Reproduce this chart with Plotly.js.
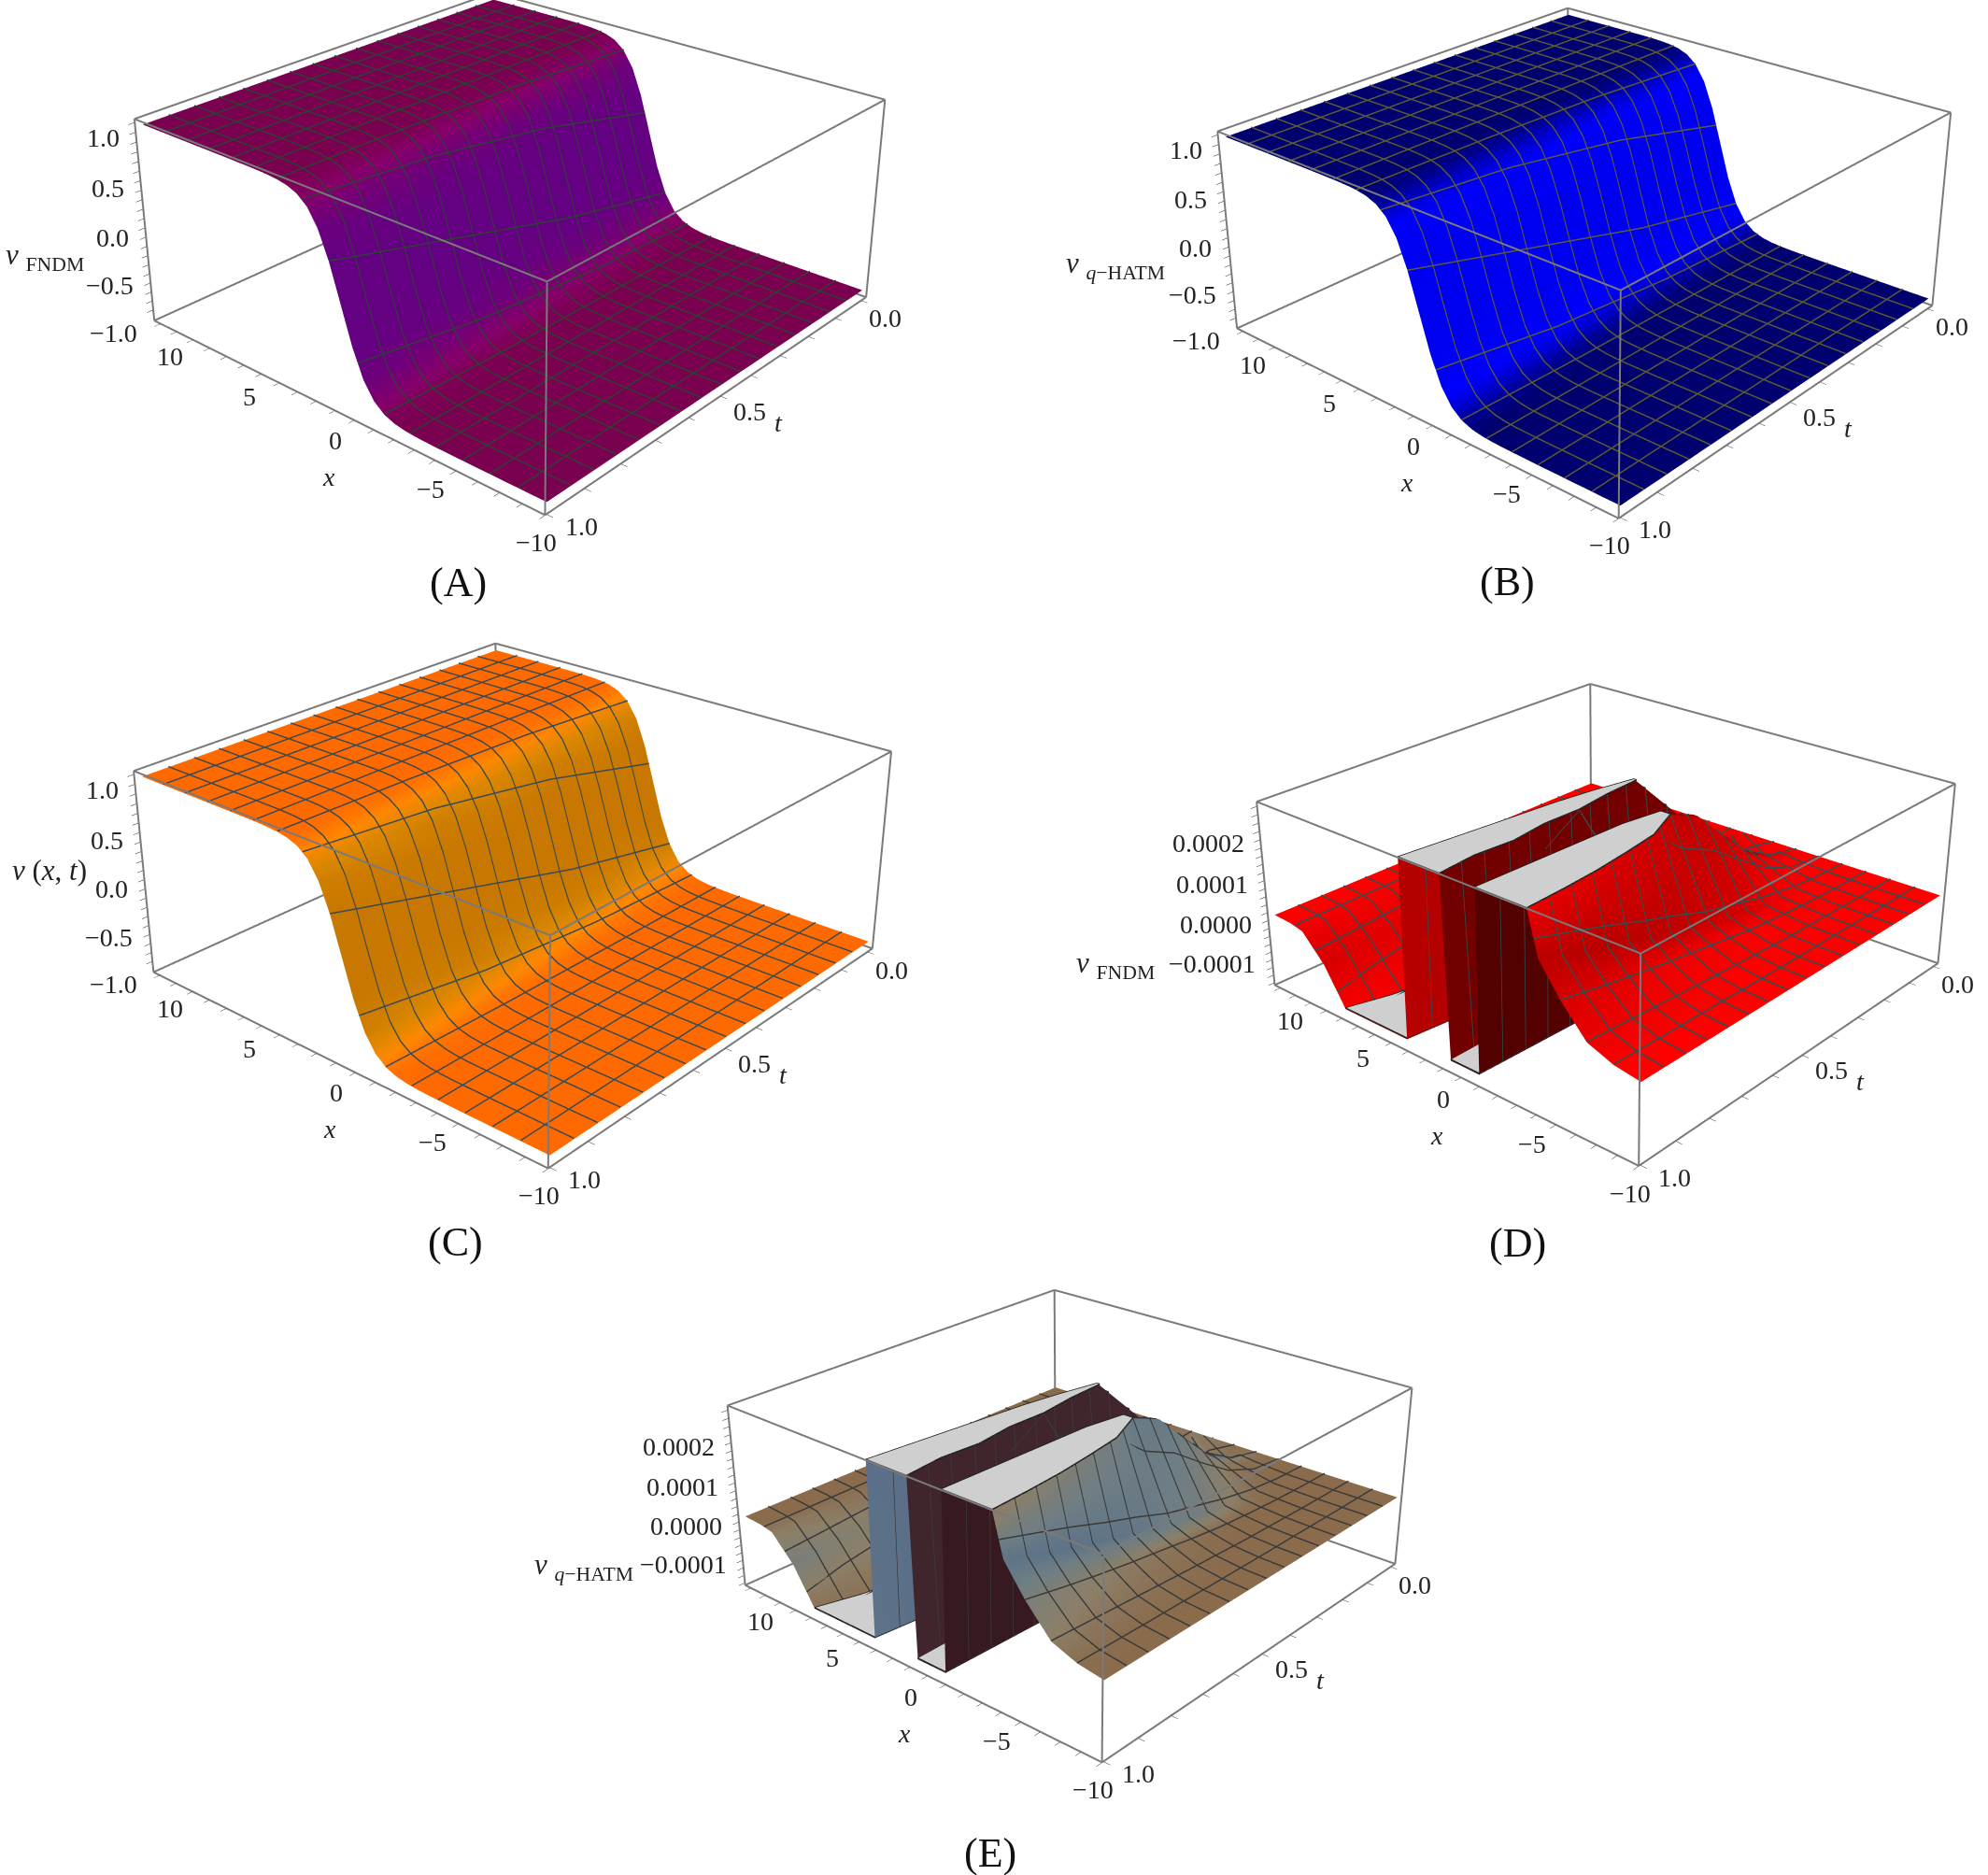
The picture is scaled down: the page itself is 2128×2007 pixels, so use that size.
<!DOCTYPE html>
<html><head><meta charset="utf-8">
<script src="https://cdn.plot.ly/plotly-3.0.1.min.js"></script>
<style>html,body{margin:0;padding:0;width:2128px;height:2007px;overflow:hidden;background:#fff}
.p{position:absolute}</style></head>
<body>
<script>
/* ---------- data ---------- */
const xSmooth=[-10,-9.5,-9,-8.5,-8,-7.5,-7,-6.5,-6,-5.5,-5,-4.5,-4,-3.5,-3,-2.5,-2,-1.5,-1,-0.5,0,0.5,1,1.5,2,2.5,3,3.5,4,4.5,5,5.5,6,6.5,7,7.5,8,8.5,9,9.5,10];
const tSmooth=[0,0.333,0.667,1];
const vRowT0=[-1,-1,-1,-1,-1,-1,-1,-1,-1,-1,-1,-1,-0.999,-0.999,-0.997,-0.993,-0.984,-0.964,-0.922,-0.834,-0.664,-0.38,0,0.38,0.664,0.834,0.922,0.964,0.984,0.993,0.997,0.999,0.999,1,1,1,1,1,1,1,1];
const vRowT1=[-1,-1,-1,-1,-1,-1,-1,-1,-1,-1,-1,-0.999,-0.999,-0.997,-0.993,-0.984,-0.964,-0.922,-0.834,-0.664,-0.38,0,0.38,0.664,0.834,0.922,0.964,0.984,0.993,0.997,0.999,0.999,1,1,1,1,1,1,1,1,1];
const vRowT2=[-1,-1,-1,-1,-1,-1,-1,-1,-1,-1,-0.999,-0.999,-0.997,-0.993,-0.984,-0.964,-0.922,-0.834,-0.664,-0.38,0,0.38,0.664,0.834,0.922,0.964,0.984,0.993,0.997,0.999,0.999,1,1,1,1,1,1,1,1,1,1];
const vRowT3=[-1,-1,-1,-1,-1,-1,-1,-1,-1,-0.999,-0.999,-0.997,-0.993,-0.984,-0.964,-0.922,-0.834,-0.664,-0.38,0,0.38,0.664,0.834,0.922,0.964,0.984,0.993,0.997,0.999,0.999,1,1,1,1,1,1,1,1,1,1,1];
const vSmooth=[vRowT0,vRowT1,vRowT2,vRowT3];

/* error surfaces: each row is one t, columns follow the cliffs (z in units of 1e-4) */
const tErr=[0,0.1,0.2,0.3,0.4,0.5,0.6,0.7,0.8,0.9,1];
const xErr=[
[-10,-8.75,-7.5,-6.25,-5,-3.75,-2.5,-1.25,0,1.25,2.5,3.75,5,6.25,7.5,8.75,10],
[-10,-8.75,-7.5,-6.25,-5.2,-3,-2.4,-2,-0.6,-0.1,0.5,1.2,2.4,7,8.25,9,10],
[-10,-8.75,-7.5,-6.25,-5.2,-3,-2.4,-2,-0.6,-0.1,0.5,1.2,2.4,7,8.25,9,10],
[-10,-8.75,-7.5,-6.25,-5.2,-3,-2.6,-2.2,-0.4,0.1,0.5,1,2.4,7,8.25,9,10],
[-10,-8.75,-7.5,-6.25,-5.2,-2.95,-2.7,-2.3,-0.3,0.35,0.5,0.9,2.8,7,8.25,9,10],
[-10,-8.75,-7.5,-6.25,-5.2,-3.1,-2.6,-2.35,-0.3,0.25,0.9,1.1,3.3,7,8.25,9,10],
[-10,-8.75,-7.5,-6.25,-5.2,-3.9,-2.3,-2.15,-0.32,0,1.2,1.3,3.8,7,8.25,9,10],
[-10,-8.75,-7.5,-6.25,-5.2,-4.2,-2.25,-2.1,-0.34,0.05,1.4,1.5,4.3,7,8.25,9,10],
[-10,-8.75,-7.5,-6.25,-5.2,-4.45,-2.2,-2.05,-0.36,-0.2,1.6,1.7,4.8,7,8.25,9,10],
[-10,-8.75,-7.5,-6.25,-5.2,-4.6,-2.15,-2,-0.38,-0.05,1.8,1.9,5.2,7,8.25,9,10],
[-10,-8.75,-7.5,-6.25,-5.2,-4.7,-2.1,-1.95,-0.4,-0.25,2,2.1,5.8,7,8.25,9,10]];
const zErr=[
[0,0,0,0,0,0,0,0,0,0,0,0,0,0,0,0,0],
[0,0,0,0.01,0.02,0.12,0.2,-0.15,0.5,-0.4,0.15,-0.08,-0.05,-0.01,0,0,0],
[0,0,0.01,0.04,0.07,0.6,0.7,-0.5,0.6,0.75,0.75,-0.3,-0.2,-0.03,0,0,0],
[0,0.01,0.03,0.09,0.16,1.4,1.5,-0.3,-0.28,1.7,1.7,-0.75,-0.5,-0.07,-0.01,0,0],
[0,0.01,0.05,0.16,0.3,2.3,2.3,-0.55,-0.5,2.67,2.67,-1.2,-0.9,-0.13,-0.02,0,0],
[0,0.02,0.09,0.27,0.47,2.67,2.67,-0.9,-0.8,2.67,2.67,-1.6,-1.4,-0.2,-0.03,-0.01,0],
[0,0.03,0.13,0.4,0.68,2.67,2.67,-1.3,-1.1,2.67,2.67,-1.6,-1.6,-0.28,-0.04,-0.01,0],
[0,0.05,0.18,0.52,0.9,2.67,2.67,-1.6,-1.6,2.67,2.67,-1.6,-1.6,-0.38,-0.05,-0.02,0],
[0,0.06,0.23,0.66,1.15,2.67,2.67,-1.6,-1.6,2.67,2.67,-1.6,-1.6,-0.48,-0.07,-0.02,0],
[0,0.08,0.28,0.82,1.4,2.67,2.67,-1.6,-1.6,2.67,2.67,-1.6,-1.6,-0.6,-0.08,-0.03,0],
[0,0.1,0.33,1,1.7,2.67,2.67,-1.6,-1.6,2.67,2.67,-1.6,-1.6,-0.7,-0.1,-0.03,0]];
const errUnit=1e-4, errTop=2.67, errFloor=-1.6;
const errTone=[.5,.5,.5,.5,.5,.5,1,1,.85,.85,.5,.5,.5,.5,.5,.5,.5];

const xTicks=[-10,-9,-8,-7,-6,-5,-4,-3,-2,-1,0,1,2,3,4,5,6,7,8,9,10];
const xLabels=['−10','','','','','−5','','','','','0','','','','','5','','','','','10'];
const tTicks=[0,0.1,0.2,0.3,0.4,0.5,0.6,0.7,0.8,0.9,1];
const tLabels=['0.0','','','','','0.5','','','','','1.0'];
const vTicks=[-1,-0.9,-0.8,-0.7,-0.6,-0.5,-0.4,-0.3,-0.2,-0.1,0,0.1,0.2,0.3,0.4,0.5,0.6,0.7,0.8,0.9,1];
const vLabels=['−1.0','','','','','−0.5','','','','','0.0','','','','','0.5','','','','','1.0'];
const eTicks=[-1.8,-1.6,-1.4,-1.2,-1,-0.8,-0.6,-0.4,-0.2,0,0.2,0.4,0.6,0.8,1,1.2,1.4,1.6,1.8,2,2.2,2.4,2.6];
const eLabels=['','','','','−0.0001','','','','','0.0000','','','','','0.0001','','','','','0.0002','','',''];

const panels=[
 {id:'(A)',kind:'v',cx:551,cy:226,s:1.005,az:.425,capx:490,capy:623,title:'<i>v</i> <sub>FNDM</sub>',tz:0,tsx:-108,tsy:-42,mesh:'#2f3f35',
  scale:[[0,'#7a0050'],[.35,'#86006a'],[1,'#640082']]},
 {id:'(B)',kind:'v',cx:1701,cy:238,s:.982,az:.425,capx:1613,capy:623,title:'<i>v</i> <sub><i>q</i>−HATM</sub>',tz:0,tsx:-121,tsy:-40,mesh:'#5a5a36',
  scale:[[0,'#00006e'],[.4,'#0000c8'],[.7,'#0000ff'],[1,'#0000f0']]},
 {id:'(C)',kind:'v',cx:554,cy:924,s:1.015,az:.42,capx:487,capy:1330,title:'<i>v</i> (<i>x</i>, <i>t</i>)',tz:0,tsx:-102,tsy:-1,mesh:'#3c4a50',
  scale:[[0,'#ff6a00'],[.35,'#ff8800'],[.7,'#d98600'],[1,'#c87800']]},
 {id:'(D)',kind:'e',cx:1724,cy:948,s:.936,az:.415,capx:1624,capy:1330,title:'<i>v</i> <sub>FNDM</sub>',tz:-1e-4,tsx:-168,tsy:-15,mesh:'#2f4f50',
  scale:[[0,'#ff0000'],[.5,'#b40000'],[.75,'#8a0000'],[1,'#520000']]},
 {id:'(E)',kind:'e',cx:1150,cy:1592,s:.917,az:.415,capx:1060,capy:1983,title:'<i>v</i> <sub><i>q</i>−HATM</sub>',tz:-1e-4,tsx:-171,tsy:-16,mesh:'#3a3a3a',
  scale:[[0,'#8a6b4c'],[.15,'#8c7f68'],[.35,'#6e7e85'],[.5,'#5a7088'],[.7,'#4a3038'],[1,'#361a20']]}
];

/* ---------- figure ---------- */
const BASE=1547, HALFW=600;
const eye={x:-2.01,y:2.31,z:1.43};
const xRange=[-10.02,10.4], tRange=[-0.02,1.005];
const FONT='Liberation Serif, serif', TS=28, TICK=28;
const LIT={ambient:1,diffuse:0,specular:0,roughness:1,fresnel:0};
const capPairs=[[5,6,errTop],[9,10,errTop],[7,8,errFloor],[11,12,errFloor]];

function shade(xs,ts,zs,zr,tone,az){
 const sx=1/(xRange[1]-xRange[0]),sy=1/(tRange[1]-tRange[0]),sz=az/(zr[1]-zr[0]);
 const X=r=>Array.isArray(xs[0])?xs[r]:xs;
 return zs.map((row,i)=>row.map((z,j)=>{
  const j0=Math.max(j-1,0),j1=Math.min(j+1,row.length-1),i0=Math.max(i-1,0),i1=Math.min(i+1,zs.length-1);
  const a=(row[j1]-row[j0])*sz/(Math.max(X(i)[j1]-X(i)[j0],1e-3)*sx);
  const b=(zs[i1][j]-zs[i0][j])*sz/((ts[i1]-ts[i0])*sy);
  const st=1-1/Math.sqrt(1+a*a+b*b);
  return Math.min(1,st/.6)*(tone?tone[j]:1);
 }));
}
function boxLines(zr){
 const X=[],Y=[],Z=[];
 const inset=r=>{const e=(r[1]-r[0])*.001;return [r[0]+e,r[1]-e]};
 const xr=inset(xRange),yr=inset(tRange),zz=inset(zr);
 const add=(a,b,c,d,e,f)=>{X.push(a,d,null);Y.push(b,e,null);Z.push(c,f,null)};
 for(const y of yr)for(const z of zz)add(xr[0],y,z,xr[1],y,z);
 for(const x of xr)for(const z of zz)add(x,yr[0],z,x,yr[1],z);
 for(const x of xr)for(const y of yr)add(x,y,zz[0],x,y,zz[1]);
 return {x:X,y:Y,z:Z};
}
/* the 15×15 mesh */
function meshLines(xs,ts,zs,lift){
 const X=Array.isArray(xs[0])?xs:ts.map(()=>xs);
 const out={x:[],y:[],z:[]};
 for(let k=1;k<16;k++){
  const lvl=-10+k*1.25;
  ts.forEach((t,i)=>{
   const r=X[i];let j=0;while(j<r.length-2&&r[j+1]<lvl)j++;
   const f=(lvl-r[j])/(r[j+1]-r[j]);
   out.x.push(lvl);out.y.push(t);out.z.push(zs[i][j]+(zs[i][j+1]-zs[i][j])*f+lift);
  });
  out.x.push(null);out.y.push(null);out.z.push(null);
 }
 for(let k=1;k<16;k++){
  const t=k/16;let i=0;while(i<ts.length-2&&ts[i+1]<t)i++;
  const f=(t-ts[i])/(ts[i+1]-ts[i]);
  X[i].forEach((x0,j)=>{
   out.x.push(x0+(X[i+1][j]-x0)*f);out.y.push(t);out.z.push(zs[i][j]+(zs[i+1][j]-zs[i][j])*f+lift);
  });
  out.x.push(null);out.y.push(null);out.z.push(null);
 }
 return out;
}
function drawPanel(p){
 const h=BASE*p.s, w=2*HALFW;
 const div=document.createElement('div');div.className='p';
 div.style.left=(p.cx-HALFW)+'px';div.style.top=(p.cy-h/2)+'px';div.style.width=w+'px';div.style.height=h+'px';
 document.body.appendChild(div);
 const isV=p.kind==='v';
 const zr=isV?[-1.12,1.04]:[-1.86*errUnit,2.72*errUnit];
 const zs=isV?vSmooth:zErr.map(r=>r.map(v=>v*errUnit));
 const xs=isV?xSmooth:xErr, ts=isV?tSmooth:tErr;
 const traces=[{type:'surface',x:xs,y:ts,z:zs,surfacecolor:shade(xs,ts,zs,zr,isV?null:errTone,p.az),
  cmin:0,cmax:1,colorscale:p.scale,showscale:false,hoverinfo:'skip',lighting:LIT,
  contours:{x:{show:false,highlight:false},y:{show:false,highlight:false},z:{show:false,highlight:false}}}];
 traces.push({type:'scatter3d',mode:'lines',hoverinfo:'skip',...meshLines(xs,ts,zs,(zr[1]-zr[0])*.003),line:{color:p.mesh,width:3},connectgaps:false});
 if(!isV){
  const ol={x:[],y:[],z:[]};
  capPairs.forEach(([a,b,lvl])=>{
   const rows=zErr.map((r,i)=>i).filter(i=>zErr[i][a]===lvl&&zErr[i][b]===lvl);
   const zv=(lvl+0.03)*errUnit, mx=[],my=[],mz=[],I=[],J=[],K=[];
   rows.forEach((i,n)=>{mx.push(xErr[i][a],xErr[i][b]);my.push(tErr[i],tErr[i]);mz.push(zv,zv);
    if(n){const q=2*n;I.push(q-2,q-1);J.push(q-1,q+1);K.push(q,q);}});
   traces.push({type:'mesh3d',x:mx,y:my,z:mz,i:I,j:J,k:K,color:'#cfcfcf',hoverinfo:'skip',lighting:LIT,flatshading:true});
   rows.forEach(i=>{ol.x.push(xErr[i][a]);ol.y.push(tErr[i]);ol.z.push(zv)});
   rows.slice().reverse().forEach(i=>{ol.x.push(xErr[i][b]);ol.y.push(tErr[i]);ol.z.push(zv)});
   ol.x.push(xErr[rows[0]][a],null);ol.y.push(tErr[rows[0]],null);ol.z.push(zv,null);
  });
  traces.push({type:'scatter3d',mode:'lines',hoverinfo:'skip',...ol,line:{color:'#1c1c1c',width:3},connectgaps:false});
 }
 const bl=boxLines(zr);
 traces.push({type:'scatter3d',mode:'lines',hoverinfo:'skip',x:bl.x,y:bl.y,z:bl.z,line:{color:'#7a7a7a',width:4},connectgaps:false});
 const ax=(tv)=>({title:{text:''},tickmode:'array',tickvals:tv,ticktext:tv.map(()=>''),showticklabels:false,
   ticks:'outside',ticklen:6,tickwidth:1,tickcolor:'#222',
   showgrid:false,zeroline:false,showbackground:false,showspikes:false,showline:false});
 const font={family:FONT,size:TS,color:'#222'}, tfont={family:FONT,size:TICK,color:'#222'};
 const anns=[
   {x:0,y:1,z:zr[0],text:'<i>x</i>',showarrow:false,xshift:-8,yshift:-72,font},
   {x:-10,y:0.5,z:zr[0],text:'<i>t</i>',showarrow:false,xshift:62,yshift:-28,font},
   {x:xRange[1],y:1,z:p.tz,text:p.title,showarrow:false,xshift:p.tsx,yshift:p.tsy,font:{...font,size:31}}];
 xTicks.forEach((v,i)=>{ if(xLabels[i]){const f=(10-v)/20;
   anns.push({x:v,y:1,z:zr[0],text:xLabels[i],showarrow:false,xshift:9-20*f,yshift:-(36-6*f),font:tfont});}});
 tTicks.forEach((v,i)=>{ if(tLabels[i]){
   anns.push({x:-10,y:v,z:zr[0],text:tLabels[i],showarrow:false,xshift:26+11*v,yshift:-(19-6*v),font:tfont});}});
 (isV?vTicks:eTicks).forEach((v,i)=>{const lab=isV?vLabels[i]:eLabels[i]; if(lab){
   const dy=isV?-(17+8*(1-v)/2):-13;
   anns.push({x:xRange[1],y:1,z:isV?v:v*errUnit,text:lab,showarrow:false,xanchor:'right',xshift:-16,yshift:dy,font:tfont});}});
 const layout={width:w,height:h,margin:{l:0,r:0,t:0,b:0},paper_bgcolor:'rgba(0,0,0,0)',showlegend:false,hovermode:false,
  annotations:[{xref:'paper',yref:'paper',x:(p.capx-p.cx+HALFW)/w,y:1-(p.capy-p.cy+h/2)/h,text:p.id,showarrow:false,xanchor:'center',yanchor:'middle',font:{family:FONT,size:44,color:'#111'}}],
  scene:{domain:{x:[0,1],y:[0,1]},bgcolor:'rgba(0,0,0,0)',aspectmode:'manual',aspectratio:{x:1,y:1,z:p.az},dragmode:false,
  camera:{eye,center:{x:0,y:0,z:0},up:{x:0,y:0,z:1},projection:{type:'perspective'}},
  annotations:anns,
  xaxis:{...ax(xTicks),range:xRange},
  yaxis:{...ax(tTicks),range:tRange},
  zaxis:{...ax(isV?vTicks:eTicks.map(v=>v*errUnit)),range:zr}}};
 return Plotly.newPlot(div,traces,layout,{displayModeBar:false});
}
let n=0;
function next(){ if(n<panels.length) drawPanel(panels[n++]).then(()=>setTimeout(next,30)); }
setTimeout(next,0);
</script></body></html>
